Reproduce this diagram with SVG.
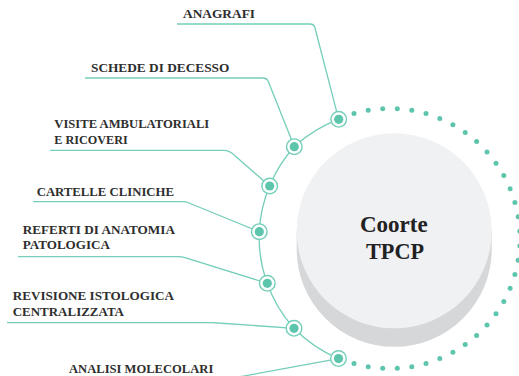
<svg xmlns="http://www.w3.org/2000/svg" width="519" height="376" viewBox="0 0 519 376">
<style>
.lbl{font-family:"Liberation Serif","Times New Roman",serif;font-weight:bold;font-size:13.3px;fill:#2e2e2e}
.ctr{font-family:"Liberation Serif","Times New Roman",serif;font-weight:bold;font-size:23px;fill:#222}
.con{fill:none;stroke:#74ceb9;stroke-width:1.3;stroke-linejoin:round}
.ring{fill:#fff;stroke:#74ceb9;stroke-width:1.4}
.core{fill:#5ec5ad}
.dot{fill:#5ec5ad}
</style>
<defs>
<g id="pin"><circle class="ring" r="7.8"/><circle class="core" r="4.6"/></g>
</defs>
<rect width="519" height="376" fill="#fff"/>

<g id="coorte">
<path d="M296.7 231 L296.7 249.4 A97.5 97.5 0 0 0 491.7 249.4 L491.7 231 Z" fill="#d6d7d9"/>
<circle cx="394.2" cy="230.8" r="97.5" fill="#f0f1f3"/>
<text class="ctr" x="360" y="232.3" textLength="67.7" lengthAdjust="spacingAndGlyphs">Coorte</text>
<text class="ctr" x="366" y="259" textLength="58" lengthAdjust="spacingAndGlyphs">TPCP</text>
</g>

<g id="dots">
<circle class="dot" cx="519.8" cy="231.2" r="2.5"/><circle class="dot" cx="519.8" cy="245.8" r="2.5"/>
<circle class="dot" cx="518.2" cy="216.7" r="2.5"/><circle class="dot" cx="518.2" cy="260.3" r="2.5"/>
<circle class="dot" cx="514.9" cy="202.5" r="2.5"/><circle class="dot" cx="514.9" cy="274.5" r="2.5"/>
<circle class="dot" cx="510.1" cy="188.8" r="2.5"/><circle class="dot" cx="510.1" cy="288.3" r="2.5"/>
<circle class="dot" cx="503.8" cy="175.6" r="2.5"/><circle class="dot" cx="503.8" cy="301.4" r="2.5"/>
<circle class="dot" cx="496.0" cy="163.3" r="2.5"/><circle class="dot" cx="496.0" cy="313.7" r="2.5"/>
<circle class="dot" cx="487.0" cy="151.9" r="2.5"/><circle class="dot" cx="487.0" cy="325.1" r="2.5"/>
<circle class="dot" cx="476.6" cy="141.6" r="2.5"/><circle class="dot" cx="476.6" cy="335.5" r="2.5"/>
<circle class="dot" cx="465.2" cy="132.5" r="2.5"/><circle class="dot" cx="465.2" cy="344.5" r="2.5"/>
<circle class="dot" cx="452.9" cy="124.7" r="2.5"/><circle class="dot" cx="452.9" cy="352.3" r="2.5"/>
<circle class="dot" cx="439.8" cy="118.4" r="2.5"/><circle class="dot" cx="439.8" cy="358.6" r="2.5"/>
<circle class="dot" cx="426.0" cy="113.6" r="2.5"/><circle class="dot" cx="426.0" cy="363.4" r="2.5"/>
<circle class="dot" cx="411.8" cy="110.3" r="2.5"/><circle class="dot" cx="411.8" cy="366.7" r="2.5"/>
<circle class="dot" cx="397.3" cy="108.7" r="2.5"/><circle class="dot" cx="397.3" cy="368.2" r="2.5"/>
<circle class="dot" cx="382.7" cy="108.7" r="2.5"/><circle class="dot" cx="382.7" cy="368.2" r="2.5"/>
<circle class="dot" cx="368.2" cy="110.3" r="2.5"/><circle class="dot" cx="368.2" cy="366.7" r="2.5"/>
<circle class="dot" cx="354.0" cy="113.6" r="2.5"/><circle class="dot" cx="354.0" cy="363.4" r="2.5"/>
</g>

<g id="connectors">
<path class="con" d="M338.7 119.3 A131 131 0 0 0 294.3 146.7 A131 131 0 0 0 269.7 186 A131 131 0 0 0 259.3 231.7 A131 131 0 0 0 267.3 283.3 A131 131 0 0 0 294 328.3 A131 131 0 0 0 338.5 358.6"/>
<path class="con" d="M177 24 H310 Q314 24 315 28 L338.7 119.3"/>
<path class="con" d="M85 78 H263 Q267 78 268.5 82 L294.3 146.7"/>
<path class="con" d="M50 150.3 H224 Q229 150.3 233 154 L269.7 186"/>
<path class="con" d="M33 201.7 H182 Q186 201.7 189 203 L259.3 231.7"/>
<path class="con" d="M18 256.7 H178 Q182 256.7 185 257.6 L267.3 283.3"/>
<path class="con" d="M7 322.7 H212 Q215 322.7 218 323 L294 328.3"/>
<path class="con" d="M60 379.5 H225 L338.5 358.6"/>
</g>

<g id="anagrafi">
<text class="lbl" x="183" y="17.5" textLength="72" lengthAdjust="spacingAndGlyphs">ANAGRAFI</text>
<use href="#pin" x="338.7" y="119.3"/>
</g>
<g id="schede-di-decesso">
<text class="lbl" x="91" y="71.7" textLength="138.3" lengthAdjust="spacingAndGlyphs">SCHEDE DI DECESSO</text>
<use href="#pin" x="294.3" y="146.7"/>
</g>
<g id="visite-ambulatoriali">
<text class="lbl" x="54.3" y="128.3" textLength="155" lengthAdjust="spacingAndGlyphs">VISITE AMBULATORIALI</text>
<text class="lbl" x="54.3" y="143.5" textLength="73.4" lengthAdjust="spacingAndGlyphs">E RICOVERI</text>
<use href="#pin" x="269.7" y="186"/>
</g>
<g id="cartelle-cliniche">
<text class="lbl" x="36.7" y="196" textLength="137.3" lengthAdjust="spacingAndGlyphs">CARTELLE CLINICHE</text>
<use href="#pin" x="259.3" y="231.7"/>
</g>
<g id="referti-anatomia-patologica">
<text class="lbl" x="22.7" y="234" textLength="152.3" lengthAdjust="spacingAndGlyphs">REFERTI DI ANATOMIA</text>
<text class="lbl" x="22.7" y="249" textLength="87.3" lengthAdjust="spacingAndGlyphs">PATOLOGICA</text>
<use href="#pin" x="267.3" y="283.3"/>
</g>
<g id="revisione-istologica">
<text class="lbl" x="12.7" y="300" textLength="161.3" lengthAdjust="spacingAndGlyphs">REVISIONE ISTOLOGICA</text>
<text class="lbl" x="12.7" y="315.7" textLength="111.3" lengthAdjust="spacingAndGlyphs">CENTRALIZZATA</text>
<use href="#pin" x="294" y="328.3"/>
</g>
<g id="analisi-molecolari">
<text class="lbl" x="69" y="372.7" textLength="144.3" lengthAdjust="spacingAndGlyphs">ANALISI MOLECOLARI</text>
<use href="#pin" x="338.5" y="358.6"/>
</g>
</svg>
